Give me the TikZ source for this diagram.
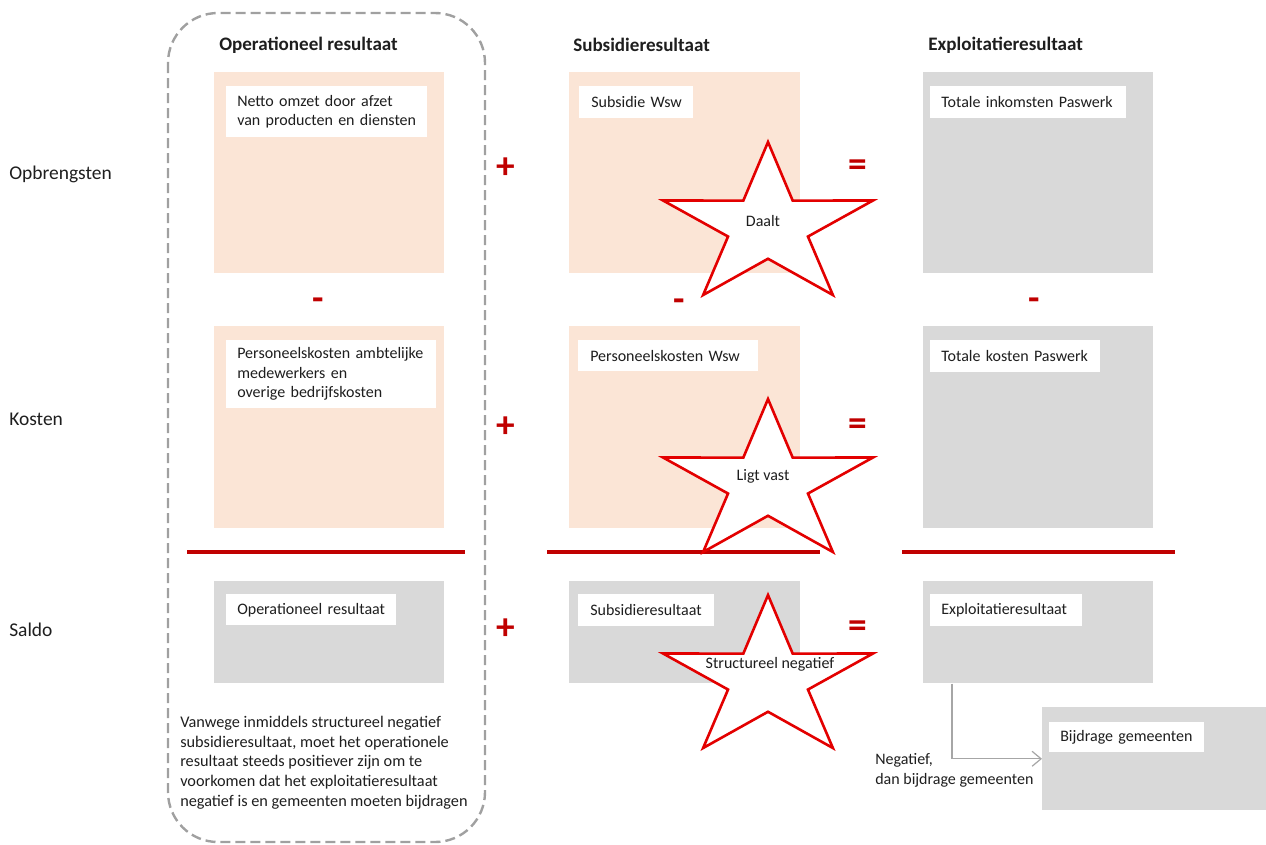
\documentclass[tikz,border=0pt]{standalone}
\usepackage{fontspec}
\setmainfont{Carlito}
\usetikzlibrary{arrows.meta}
\definecolor{peach}{HTML}{FBE5D6}
\definecolor{boxgray}{HTML}{D9D9D9}
\definecolor{darkred}{HTML}{C00000}
\definecolor{starred}{HTML}{E30000}
\definecolor{dashgray}{HTML}{A0A0A0}
\definecolor{arrgray}{HTML}{A6A6A6}
\definecolor{txt}{HTML}{1E1E1E}
\def\p{0.75pt}
\newcommand\mystar[2]{%
  \begin{scope}[shift={(#1,#2)}]
    \draw[starline] (0,-84.57) -- (-24.69,-25.99) -- (-105.0,-26.13) -- (-39.95,9.93)
      -- (-64.89,68.42) -- (0,32.13) -- (64.89,68.42) -- (39.95,9.93)
      -- (105.0,-26.13) -- (24.69,-25.99) -- cycle;
  \end{scope}}
\begin{document}
\begin{tikzpicture}[x=0.75pt,y=-0.75pt,
  every node/.style={text=txt},
  area/.style={anchor=north west, inner sep=0pt, draw=none},
  peachbox/.style={area, fill=peach},
  graybox/.style={area, fill=boxgray},
  lab/.style={anchor=north west, fill=white, inner xsep=11*\p, inner ysep=0pt,
    align=left, font=\fontsize{12}{14.6}\selectfont},
  head/.style={anchor=west, inner sep=0pt, font=\fontsize{14.3}{17}\selectfont\bfseries},
  rowlab/.style={anchor=west, inner sep=0pt, font=\fontsize{14.6}{17}\selectfont},
  op/.style={inner sep=0pt, text=darkred, font=\fontsize{28}{32}\selectfont\bfseries},
  redline/.style={draw=darkred, line width=3.2*\p},
  starline/.style={draw=starred, fill=white, line width=2.6*\p, line join=miter},
  startext/.style={inner sep=0pt, font=\fontsize{12}{14.6}\selectfont},
  plain/.style={inner sep=0pt, align=left, font=\fontsize{12.2}{14.8}\selectfont},
  conn/.style={draw=arrgray, line width=1.2*\p, -{Straight Barb[length=9*\p, width=15*\p, line width=1.2*\p]}},
  dashbox/.style={draw=dashgray, line width=2.4*\p, dash pattern=on 10*\p off 5*\p, rounded corners=50*\p}
  ]
\useasboundingbox (0,0) rectangle (1266,844);

% dashed group box
\draw[dashbox] (168,13) rectangle (485,842);

% headers
\node[head] (h1) at (219,45) {Operationeel resultaat};
\node[head] (h2) at (573,45) {Subsidieresultaat};
\node[head] (h3) at (928,45) {Exploitatieresultaat};

% row labels
\node[rowlab] (r1) at (9,174) {Opbrengsten};
\node[rowlab] (r2) at (9,419) {Kosten};
\node[rowlab] (r3) at (9,630) {Saldo};

% areas
\node[peachbox, minimum width=230*\p, minimum height=201*\p] (o1) at (214,72) {};
\node[peachbox, minimum width=230*\p, minimum height=202*\p] (o2) at (214,326) {};
\node[graybox,  minimum width=230*\p, minimum height=102*\p] (o3) at (214,581) {};
\node[peachbox, minimum width=231*\p, minimum height=201*\p] (s1) at (569,72) {};
\node[peachbox, minimum width=231*\p, minimum height=202*\p] (s2) at (569,326) {};
\node[graybox,  minimum width=231*\p, minimum height=102*\p] (s3) at (569,581) {};
\node[graybox,  minimum width=230*\p, minimum height=201*\p] (e1) at (923,72) {};
\node[graybox,  minimum width=230*\p, minimum height=202*\p] (e2) at (923,326) {};
\node[graybox,  minimum width=230*\p, minimum height=102*\p] (e3) at (923,581) {};
\node[graybox,  minimum width=224*\p, minimum height=103*\p] (bj) at (1042,707) {};

% labels in areas
\node[lab, text width=179*\p, minimum height=51*\p] (lo1) at (226,86) {Netto omzet door afzet\\van producten en diensten};
\node[lab, text width=188*\p, minimum height=68*\p] (lo2) at (226,340) {Personeelskosten ambtelijke\\medewerkers en\\overige bedrijfskosten};
\node[lab, text width=148*\p, minimum height=31*\p] (lo3) at (226,594) {\mbox{Operationeel resultaat}};
\node[lab, inner xsep=12*\p, text width=90*\p,  minimum height=32*\p] (ls1) at (579,86) {\mbox{Subsidie Wsw}};
\node[lab, inner xsep=12*\p, text width=156*\p, minimum height=31*\p] (ls2) at (578,340) {\mbox{Personeelskosten Wsw}};
\node[lab, inner xsep=12*\p, text width=112*\p, minimum height=32*\p] (ls3) at (578,594) {\mbox{Subsidieresultaat}};
\node[lab, text width=174*\p, minimum height=32*\p] (le1) at (930,86) {\mbox{Totale inkomsten Paswerk}};
\node[lab, text width=148*\p, minimum height=32*\p] (le2) at (930,340) {\mbox{Totale kosten Paswerk}};
\node[lab, text width=130*\p, minimum height=32*\p] (le3) at (930,594) {\mbox{Exploitatieresultaat}};
\node[lab, text width=133*\p, minimum height=30*\p] (lbj) at (1049,722) {\mbox{Bijdrage gemeenten}};

% operators
\node[op] (p1) at (506,168) {+};
\node[op] (q1) at (858,168) {=};
\node[op] (m1) at (318,304) {-};
\node[op] (m2) at (679,305) {-};
\node[op] (m3) at (1034,304) {-};
\node[op] (p2) at (506,427) {+};
\node[op] (q2) at (858,427) {=};
\node[op] (p3) at (506,629) {+};
\node[op] (q3) at (858,629) {=};

% red total lines
\coordinate (l1a) at (187,552); \coordinate (l1b) at (465,552);
\coordinate (l2a) at (547,552); \coordinate (l2b) at (820,552);
\coordinate (l3a) at (902,552); \coordinate (l3b) at (1175,552);
\draw[redline] (l1a) -- (l1b);
\draw[redline] (l2a) -- (l2b);
\draw[redline] (l3a) -- (l3b);

% stars
\mystar{768}{226.6}
\node[startext] (st1) at (763,221) {Daalt};
\mystar{768}{483.6}
\node[startext] (st2) at (763,476) {Ligt vast};
\mystar{768}{679.6}
\node[startext] (st3) at (770,664) {Structureel negatief};

% connector
\draw[conn] ([xshift=29*\p]e3.south west) |- (bj.west);
\node[plain, font=\fontsize{12}{14.8}\selectfont, anchor=west] (neg) at (875,770) {Negatief,\\dan bijdrage gemeenten};

% explanation
\node[plain, anchor=west] (expl) at (180,762.5) {Vanwege inmiddels structureel negatief\\subsidieresultaat, moet het operationele\\resultaat steeds positiever zijn om te\\voorkomen dat het exploitatieresultaat\\negatief is en gemeenten moeten bijdragen};
\end{tikzpicture}
\end{document}
